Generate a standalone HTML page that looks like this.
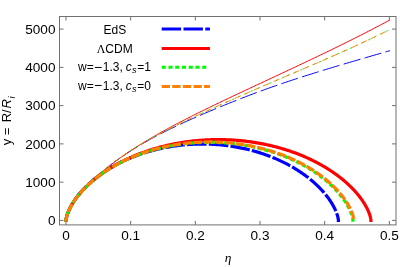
<!DOCTYPE html>
<html><head><meta charset="utf-8"><style>
html,body{margin:0;padding:0;background:#fff;}
svg{display:block;will-change:transform}
text{font-family:"Liberation Sans",sans-serif;fill:#000}
.tk text{font-size:13.6px}
.lg text{font-size:12px}
.it{font-style:italic}
.se{font-family:"Liberation Serif",serif}
</style></head><body>
<svg width="400" height="267" viewBox="0 0 400 267">
<rect width="400" height="267" fill="#fff"/>
<g fill="none" stroke-linecap="square" stroke-linejoin="round">
<path d="M66.00 220.41 L66.06 219.68 L66.18 218.95 L66.32 218.22 L66.50 217.49 L66.70 216.76 L66.92 216.03 L67.16 215.30 L67.42 214.57 L67.69 213.85 L67.98 213.12 L68.28 212.39 L68.60 211.67 L68.93 210.94 L69.28 210.22 L69.63 209.50 L70.00 208.77 L70.38 208.05 L70.78 207.33 L71.18 206.61 L71.59 205.89 L72.02 205.17 L72.45 204.46 L72.90 203.74 L73.35 203.02 L73.82 202.31 L74.29 201.59 L74.77 200.88 L75.27 200.17 L75.77 199.46 L76.28 198.75 L76.79 198.04 L77.32 197.33 L77.86 196.62 L78.40 195.92 L78.95 195.21 L79.51 194.51 L80.08 193.81 L80.65 193.10 L81.23 192.40 L81.82 191.70 L82.42 191.01 L83.02 190.31 L83.63 189.61 L84.25 188.92 L84.88 188.22 L85.51 187.53 L86.15 186.84 L86.80 186.15 L87.45 185.46 L88.11 184.78 L88.78 184.09 L89.45 183.40 L90.13 182.72 L90.82 182.04 L91.51 181.36 L92.21 180.68 L92.91 180.00 L93.63 179.32 L94.34 178.65 L95.07 177.97 L95.80 177.30 L96.53 176.63 L97.27 175.96 L98.02 175.29 L98.77 174.63 L99.53 173.96 L100.30 173.30 L101.07 172.63 L101.85 171.97 L102.63 171.31 L103.42 170.65 L104.21 170.00 L105.01 169.34 L105.81 168.69 L106.62 168.04 L107.44 167.39 L108.26 166.74 L109.08 166.09 L109.91 165.44 L110.75 164.80 L111.59 164.16 L112.44 163.52 L113.29 162.88 L114.15 162.24 L115.01 161.60 L115.88 160.97 L116.75 160.34 L117.63 159.70 L118.51 159.07 L119.40 158.45 L120.29 157.82 L121.19 157.20 L122.09 156.57 L123.00 155.95 L123.91 155.33 L124.83 154.72 L125.75 154.10 L126.67 153.49 L127.61 152.87 L128.54 152.26 L129.48 151.65 L130.43 151.05 L131.38 150.44 L132.33 149.84 L133.29 149.24 L134.25 148.64 L135.22 148.04 L136.19 147.44 L137.17 146.85 L138.15 146.26 L139.14 145.67 L140.13 145.08 L141.12 144.49 L142.12 143.90 L143.13 143.32 L144.14 142.74 L145.15 142.16 L146.17 141.58 L147.19 141.00 L148.21 140.43 L149.24 139.86 L150.28 139.28 L151.31 138.72 L152.36 138.15 L153.40 137.58 L154.45 137.02 L155.51 136.45 L156.57 135.89 L157.63 135.33 L158.70 134.78 L159.77 134.22 L160.85 133.67 L161.93 133.11 L163.01 132.56 L164.10 132.01 L165.19 131.46 L166.29 130.91 L167.39 130.37 L168.49 129.82 L169.60 129.28 L170.71 128.74 L171.83 128.20 L172.95 127.66 L174.07 127.12 L175.20 126.58 L176.33 126.05 L177.47 125.51 L178.61 124.98 L179.75 124.44 L180.90 123.91 L182.05 123.38 L183.20 122.85 L184.36 122.32 L185.52 121.79 L186.69 121.26 L187.86 120.73 L189.03 120.21 L190.21 119.68 L191.39 119.15 L192.57 118.63 L193.76 118.10 L194.96 117.58 L196.15 117.05 L197.35 116.53 L198.55 116.01 L199.76 115.48 L200.97 114.96 L202.19 114.44 L203.40 113.91 L204.62 113.39 L205.85 112.87 L207.08 112.34 L208.31 111.82 L209.55 111.30 L210.78 110.78 L212.03 110.25 L213.27 109.73 L214.52 109.21 L215.78 108.69 L217.03 108.17 L218.29 107.65 L219.56 107.12 L220.83 106.60 L222.10 106.08 L223.37 105.56 L224.65 105.04 L225.93 104.52 L227.21 104.00 L228.50 103.48 L229.79 102.96 L231.09 102.44 L232.39 101.92 L233.69 101.40 L234.99 100.88 L236.30 100.36 L237.61 99.85 L238.93 99.33 L240.25 98.81 L241.57 98.30 L242.89 97.78 L244.22 97.27 L245.55 96.76 L246.89 96.24 L248.23 95.73 L249.57 95.22 L250.91 94.71 L252.26 94.20 L253.61 93.69 L254.97 93.19 L256.32 92.68 L257.69 92.18 L259.05 91.67 L260.42 91.17 L261.79 90.67 L263.16 90.17 L264.54 89.67 L265.92 89.17 L267.30 88.67 L268.69 88.18 L270.08 87.69 L271.47 87.19 L272.87 86.70 L274.27 86.21 L275.67 85.72 L277.08 85.23 L278.49 84.75 L279.90 84.26 L281.31 83.78 L282.73 83.29 L284.15 82.81 L285.58 82.33 L287.00 81.85 L288.43 81.37 L289.87 80.89 L291.30 80.42 L292.74 79.94 L294.19 79.47 L295.63 78.99 L297.08 78.52 L298.53 78.05 L299.99 77.58 L301.44 77.11 L302.91 76.64 L304.37 76.17 L305.84 75.71 L307.31 75.24 L308.78 74.77 L310.26 74.31 L311.73 73.84 L313.22 73.38 L314.70 72.92 L316.19 72.45 L317.68 71.99 L319.17 71.53 L320.67 71.07 L322.17 70.61 L323.67 70.15 L325.18 69.69 L326.68 69.23 L328.20 68.77 L329.71 68.31 L331.23 67.85 L332.75 67.39 L334.27 66.93 L335.80 66.48 L337.32 66.02 L338.86 65.56 L340.39 65.10 L341.93 64.64 L343.47 64.19 L345.01 63.73 L346.56 63.27 L348.10 62.81 L349.66 62.36 L351.21 61.90 L352.77 61.44 L354.33 60.98 L355.89 60.52 L357.46 60.07 L359.02 59.61 L360.60 59.15 L362.17 58.69 L363.75 58.23 L365.33 57.77 L366.91 57.31 L368.49 56.85 L370.08 56.39 L371.67 55.93 L373.26 55.47 L374.86 55.01 L376.46 54.54 L378.06 54.08 L379.67 53.62 L381.27 53.16 L382.88 52.69 L384.50 52.23 L386.11 51.76 L387.73 51.30 L389.35 50.83" stroke="#0000ff" stroke-width="1" stroke-dasharray="16.4 5.4" stroke-dashoffset="20.6"/>
<path d="M66.00 220.41 L66.06 219.69 L66.18 218.97 L66.32 218.24 L66.50 217.52 L66.70 216.80 L66.92 216.08 L67.16 215.36 L67.42 214.63 L67.69 213.91 L67.98 213.19 L68.28 212.48 L68.60 211.76 L68.93 211.04 L69.28 210.32 L69.63 209.60 L70.00 208.89 L70.38 208.17 L70.78 207.46 L71.18 206.74 L71.59 206.03 L72.02 205.32 L72.45 204.61 L72.90 203.90 L73.35 203.19 L73.82 202.48 L74.29 201.77 L74.77 201.06 L75.27 200.35 L75.77 199.65 L76.28 198.94 L76.79 198.24 L77.32 197.54 L77.86 196.83 L78.40 196.13 L78.95 195.43 L79.51 194.73 L80.08 194.04 L80.65 193.34 L81.23 192.64 L81.82 191.95 L82.42 191.25 L83.02 190.56 L83.63 189.87 L84.25 189.18 L84.88 188.49 L85.51 187.80 L86.15 187.11 L86.80 186.42 L87.45 185.73 L88.11 185.05 L88.78 184.37 L89.45 183.68 L90.13 183.00 L90.82 182.32 L91.51 181.64 L92.21 180.96 L92.91 180.28 L93.63 179.61 L94.34 178.93 L95.07 178.26 L95.80 177.58 L96.53 176.91 L97.27 176.24 L98.02 175.57 L98.77 174.90 L99.53 174.24 L100.30 173.57 L101.07 172.90 L101.85 172.24 L102.63 171.58 L103.42 170.91 L104.21 170.25 L105.01 169.59 L105.81 168.94 L106.62 168.28 L107.44 167.62 L108.26 166.97 L109.08 166.31 L109.91 165.66 L110.75 165.01 L111.59 164.36 L112.44 163.71 L113.29 163.06 L114.15 162.41 L115.01 161.76 L115.88 161.12 L116.75 160.47 L117.63 159.83 L118.51 159.19 L119.40 158.55 L120.29 157.91 L121.19 157.27 L122.09 156.63 L123.00 155.99 L123.91 155.36 L124.83 154.72 L125.75 154.09 L126.67 153.46 L127.61 152.82 L128.54 152.19 L129.48 151.56 L130.43 150.93 L131.38 150.31 L132.33 149.68 L133.29 149.05 L134.25 148.43 L135.22 147.81 L136.19 147.18 L137.17 146.56 L138.15 145.94 L139.14 145.32 L140.13 144.70 L141.12 144.08 L142.12 143.47 L143.13 142.85 L144.14 142.23 L145.15 141.62 L146.17 141.00 L147.19 140.39 L148.21 139.78 L149.24 139.17 L150.28 138.56 L151.31 137.95 L152.36 137.34 L153.40 136.73 L154.45 136.12 L155.51 135.51 L156.57 134.91 L157.63 134.30 L158.70 133.70 L159.77 133.09 L160.85 132.49 L161.93 131.89 L163.01 131.28 L164.10 130.68 L165.19 130.08 L166.29 129.48 L167.39 128.88 L168.49 128.28 L169.60 127.68 L170.71 127.08 L171.83 126.48 L172.95 125.88 L174.07 125.28 L175.20 124.69 L176.33 124.09 L177.47 123.49 L178.61 122.89 L179.75 122.30 L180.90 121.70 L182.05 121.11 L183.20 120.51 L184.36 119.91 L185.52 119.32 L186.69 118.72 L187.86 118.13 L189.03 117.53 L190.21 116.93 L191.39 116.34 L192.57 115.74 L193.76 115.15 L194.96 114.55 L196.15 113.95 L197.35 113.36 L198.55 112.76 L199.76 112.16 L200.97 111.57 L202.19 110.97 L203.40 110.37 L204.62 109.77 L205.85 109.17 L207.08 108.57 L208.31 107.97 L209.55 107.37 L210.78 106.77 L212.03 106.17 L213.27 105.57 L214.52 104.97 L215.78 104.36 L217.03 103.76 L218.29 103.16 L219.56 102.55 L220.83 101.94 L222.10 101.34 L223.37 100.73 L224.65 100.12 L225.93 99.51 L227.21 98.90 L228.50 98.29 L229.79 97.68 L231.09 97.07 L232.39 96.45 L233.69 95.84 L234.99 95.22 L236.30 94.61 L237.61 93.99 L238.93 93.37 L240.25 92.75 L241.57 92.13 L242.89 91.51 L244.22 90.88 L245.55 90.26 L246.89 89.63 L248.23 89.00 L249.57 88.38 L250.91 87.75 L252.26 87.11 L253.61 86.48 L254.97 85.85 L256.32 85.21 L257.69 84.58 L259.05 83.94 L260.42 83.30 L261.79 82.66 L263.16 82.02 L264.54 81.37 L265.92 80.73 L267.30 80.08 L268.69 79.43 L270.08 78.79 L271.47 78.13 L272.87 77.48 L274.27 76.83 L275.67 76.17 L277.08 75.51 L278.49 74.86 L279.90 74.19 L281.31 73.53 L282.73 72.87 L284.15 72.20 L285.58 71.53 L287.00 70.87 L288.43 70.19 L289.87 69.52 L291.30 68.85 L292.74 68.17 L294.19 67.49 L295.63 66.81 L297.08 66.13 L298.53 65.44 L299.99 64.76 L301.44 64.07 L302.91 63.38 L304.37 62.69 L305.84 61.99 L307.31 61.29 L308.78 60.59 L310.26 59.89 L311.73 59.19 L313.22 58.48 L314.70 57.78 L316.19 57.07 L317.68 56.35 L319.17 55.64 L320.67 54.92 L322.17 54.20 L323.67 53.48 L325.18 52.75 L326.68 52.02 L328.20 51.29 L329.71 50.56 L331.23 49.82 L332.75 49.08 L334.27 48.34 L335.80 47.60 L337.32 46.85 L338.86 46.10 L340.39 45.35 L341.93 44.59 L343.47 43.83 L345.01 43.07 L346.56 42.30 L348.10 41.53 L349.66 40.76 L351.21 39.98 L352.77 39.21 L354.33 38.42 L355.89 37.64 L357.46 36.85 L359.02 36.05 L360.60 35.26 L362.17 34.46 L363.75 33.65 L365.33 32.85 L366.91 32.04 L368.49 31.22 L370.08 30.40 L371.67 29.58 L373.26 28.75 L374.86 27.92 L376.46 27.09 L378.06 26.25 L379.67 25.41 L381.27 24.56 L382.88 23.71 L384.50 22.85 L386.11 21.99 L387.73 21.13 L389.35 20.26" stroke="#ff0000" stroke-width="1"/>
<path d="M66.00 220.40 L66.06 219.66 L66.18 218.93 L66.32 218.19 L66.50 217.45 L66.70 216.72 L66.92 215.98 L67.16 215.25 L67.42 214.51 L67.69 213.78 L67.98 213.04 L68.28 212.31 L68.60 211.58 L68.93 210.85 L69.28 210.12 L69.63 209.39 L70.00 208.66 L70.38 207.93 L70.78 207.20 L71.18 206.48 L71.59 205.75 L72.02 205.03 L72.45 204.30 L72.90 203.58 L73.35 202.86 L73.82 202.14 L74.29 201.42 L74.77 200.70 L75.27 199.99 L75.77 199.27 L76.28 198.56 L76.79 197.85 L77.32 197.13 L77.86 196.42 L78.40 195.71 L78.95 195.00 L79.51 194.30 L80.08 193.59 L80.65 192.89 L81.23 192.18 L81.82 191.48 L82.42 190.78 L83.02 190.08 L83.63 189.38 L84.25 188.68 L84.88 187.99 L85.51 187.30 L86.15 186.60 L86.80 185.91 L87.45 185.22 L88.11 184.53 L88.78 183.84 L89.45 183.16 L90.13 182.47 L90.82 181.79 L91.51 181.11 L92.21 180.43 L92.91 179.75 L93.63 179.07 L94.34 178.40 L95.07 177.72 L95.80 177.05 L96.53 176.38 L97.27 175.71 L98.02 175.04 L98.77 174.37 L99.53 173.71 L100.30 173.04 L101.07 172.38 L101.85 171.72 L102.63 171.06 L103.42 170.40 L104.21 169.74 L105.01 169.09 L105.81 168.44 L106.62 167.78 L107.44 167.13 L108.26 166.48 L109.08 165.84 L109.91 165.19 L110.75 164.55 L111.59 163.90 L112.44 163.26 L113.29 162.62 L114.15 161.99 L115.01 161.35 L115.88 160.72 L116.75 160.08 L117.63 159.45 L118.51 158.82 L119.40 158.19 L120.29 157.56 L121.19 156.94 L122.09 156.32 L123.00 155.69 L123.91 155.07 L124.83 154.45 L125.75 153.84 L126.67 153.22 L127.61 152.61 L128.54 151.99 L129.48 151.38 L130.43 150.77 L131.38 150.16 L132.33 149.56 L133.29 148.95 L134.25 148.35 L135.22 147.75 L136.19 147.15 L137.17 146.55 L138.15 145.95 L139.14 145.36 L140.13 144.76 L141.12 144.17 L142.12 143.58 L143.13 142.99 L144.14 142.40 L145.15 141.82 L146.17 141.23 L147.19 140.65 L148.21 140.07 L149.24 139.48 L150.28 138.90 L151.31 138.33 L152.36 137.75 L153.40 137.17 L154.45 136.60 L155.51 136.03 L156.57 135.46 L157.63 134.89 L158.70 134.32 L159.77 133.75 L160.85 133.18 L161.93 132.62 L163.01 132.05 L164.10 131.49 L165.19 130.93 L166.29 130.36 L167.39 129.80 L168.49 129.24 L169.60 128.68 L170.71 128.13 L171.83 127.57 L172.95 127.01 L174.07 126.46 L175.20 125.90 L176.33 125.34 L177.47 124.79 L178.61 124.23 L179.75 123.68 L180.90 123.13 L182.05 122.57 L183.20 122.02 L184.36 121.47 L185.52 120.91 L186.69 120.36 L187.86 119.81 L189.03 119.25 L190.21 118.70 L191.39 118.15 L192.57 117.59 L193.76 117.04 L194.96 116.49 L196.15 115.93 L197.35 115.38 L198.55 114.82 L199.76 114.26 L200.97 113.71 L202.19 113.15 L203.40 112.59 L204.62 112.03 L205.85 111.47 L207.08 110.91 L208.31 110.35 L209.55 109.79 L210.78 109.23 L212.03 108.66 L213.27 108.10 L214.52 107.53 L215.78 106.97 L217.03 106.40 L218.29 105.83 L219.56 105.26 L220.83 104.69 L222.10 104.12 L223.37 103.55 L224.65 102.98 L225.93 102.40 L227.21 101.83 L228.50 101.25 L229.79 100.68 L231.09 100.10 L232.39 99.52 L233.69 98.94 L234.99 98.36 L236.30 97.78 L237.61 97.20 L238.93 96.62 L240.25 96.04 L241.57 95.45 L242.89 94.87 L244.22 94.28 L245.55 93.70 L246.89 93.11 L248.23 92.53 L249.57 91.94 L250.91 91.35 L252.26 90.76 L253.61 90.17 L254.97 89.58 L256.32 88.99 L257.69 88.40 L259.05 87.81 L260.42 87.21 L261.79 86.62 L263.16 86.03 L264.54 85.43 L265.92 84.84 L267.30 84.24 L268.69 83.64 L270.08 83.05 L271.47 82.45 L272.87 81.85 L274.27 81.25 L275.67 80.65 L277.08 80.05 L278.49 79.45 L279.90 78.84 L281.31 78.24 L282.73 77.63 L284.15 77.03 L285.58 76.42 L287.00 75.81 L288.43 75.20 L289.87 74.59 L291.30 73.98 L292.74 73.37 L294.19 72.75 L295.63 72.14 L297.08 71.52 L298.53 70.90 L299.99 70.28 L301.44 69.66 L302.91 69.03 L304.37 68.41 L305.84 67.78 L307.31 67.15 L308.78 66.52 L310.26 65.89 L311.73 65.25 L313.22 64.62 L314.70 63.98 L316.19 63.34 L317.68 62.69 L319.17 62.05 L320.67 61.40 L322.17 60.75 L323.67 60.10 L325.18 59.44 L326.68 58.78 L328.20 58.12 L329.71 57.46 L331.23 56.79 L332.75 56.12 L334.27 55.45 L335.80 54.78 L337.32 54.10 L338.86 53.42 L340.39 52.74 L341.93 52.05 L343.47 51.36 L345.01 50.67 L346.56 49.97 L348.10 49.27 L349.66 48.57 L351.21 47.87 L352.77 47.16 L354.33 46.45 L355.89 45.73 L357.46 45.01 L359.02 44.29 L360.60 43.56 L362.17 42.83 L363.75 42.10 L365.33 41.36 L366.91 40.62 L368.49 39.87 L370.08 39.12 L371.67 38.37 L373.26 37.61 L374.86 36.85 L376.46 36.09 L378.06 35.32 L379.67 34.55 L381.27 33.77 L382.88 32.99 L384.50 32.20 L386.11 31.41 L387.73 30.61 L389.35 29.81" stroke="#00fa00" stroke-width="1" stroke-dasharray="1.1 5.65" stroke-dashoffset="4.45"/>
<path d="M66.00 220.40 L66.06 219.66 L66.18 218.93 L66.32 218.19 L66.50 217.45 L66.70 216.72 L66.92 215.98 L67.16 215.25 L67.42 214.51 L67.69 213.78 L67.98 213.04 L68.28 212.31 L68.60 211.58 L68.93 210.85 L69.28 210.12 L69.63 209.39 L70.00 208.66 L70.38 207.93 L70.78 207.20 L71.18 206.48 L71.59 205.75 L72.02 205.03 L72.45 204.30 L72.90 203.58 L73.35 202.86 L73.82 202.14 L74.29 201.42 L74.77 200.70 L75.27 199.99 L75.77 199.27 L76.28 198.56 L76.79 197.85 L77.32 197.13 L77.86 196.42 L78.40 195.71 L78.95 195.00 L79.51 194.30 L80.08 193.59 L80.65 192.89 L81.23 192.18 L81.82 191.48 L82.42 190.78 L83.02 190.08 L83.63 189.38 L84.25 188.68 L84.88 187.99 L85.51 187.30 L86.15 186.60 L86.80 185.91 L87.45 185.22 L88.11 184.53 L88.78 183.84 L89.45 183.16 L90.13 182.47 L90.82 181.79 L91.51 181.11 L92.21 180.43 L92.91 179.75 L93.63 179.07 L94.34 178.40 L95.07 177.72 L95.80 177.05 L96.53 176.38 L97.27 175.71 L98.02 175.04 L98.77 174.37 L99.53 173.71 L100.30 173.04 L101.07 172.38 L101.85 171.72 L102.63 171.06 L103.42 170.40 L104.21 169.74 L105.01 169.09 L105.81 168.44 L106.62 167.78 L107.44 167.13 L108.26 166.48 L109.08 165.84 L109.91 165.19 L110.75 164.55 L111.59 163.90 L112.44 163.26 L113.29 162.62 L114.15 161.99 L115.01 161.35 L115.88 160.72 L116.75 160.08 L117.63 159.45 L118.51 158.82 L119.40 158.19 L120.29 157.56 L121.19 156.94 L122.09 156.32 L123.00 155.69 L123.91 155.07 L124.83 154.45 L125.75 153.84 L126.67 153.22 L127.61 152.61 L128.54 151.99 L129.48 151.38 L130.43 150.77 L131.38 150.16 L132.33 149.56 L133.29 148.95 L134.25 148.35 L135.22 147.75 L136.19 147.15 L137.17 146.55 L138.15 145.95 L139.14 145.36 L140.13 144.76 L141.12 144.17 L142.12 143.58 L143.13 142.99 L144.14 142.40 L145.15 141.82 L146.17 141.23 L147.19 140.65 L148.21 140.07 L149.24 139.48 L150.28 138.90 L151.31 138.33 L152.36 137.75 L153.40 137.17 L154.45 136.60 L155.51 136.03 L156.57 135.46 L157.63 134.89 L158.70 134.32 L159.77 133.75 L160.85 133.18 L161.93 132.62 L163.01 132.05 L164.10 131.49 L165.19 130.93 L166.29 130.36 L167.39 129.80 L168.49 129.24 L169.60 128.68 L170.71 128.13 L171.83 127.57 L172.95 127.01 L174.07 126.46 L175.20 125.90 L176.33 125.34 L177.47 124.79 L178.61 124.23 L179.75 123.68 L180.90 123.13 L182.05 122.57 L183.20 122.02 L184.36 121.47 L185.52 120.91 L186.69 120.36 L187.86 119.81 L189.03 119.25 L190.21 118.70 L191.39 118.15 L192.57 117.59 L193.76 117.04 L194.96 116.49 L196.15 115.93 L197.35 115.38 L198.55 114.82 L199.76 114.26 L200.97 113.71 L202.19 113.15 L203.40 112.59 L204.62 112.03 L205.85 111.47 L207.08 110.91 L208.31 110.35 L209.55 109.79 L210.78 109.23 L212.03 108.66 L213.27 108.10 L214.52 107.53 L215.78 106.97 L217.03 106.40 L218.29 105.83 L219.56 105.26 L220.83 104.69 L222.10 104.12 L223.37 103.55 L224.65 102.98 L225.93 102.40 L227.21 101.83 L228.50 101.25 L229.79 100.68 L231.09 100.10 L232.39 99.52 L233.69 98.94 L234.99 98.36 L236.30 97.78 L237.61 97.20 L238.93 96.62 L240.25 96.04 L241.57 95.45 L242.89 94.87 L244.22 94.28 L245.55 93.70 L246.89 93.11 L248.23 92.53 L249.57 91.94 L250.91 91.35 L252.26 90.76 L253.61 90.17 L254.97 89.58 L256.32 88.99 L257.69 88.40 L259.05 87.81 L260.42 87.21 L261.79 86.62 L263.16 86.03 L264.54 85.43 L265.92 84.84 L267.30 84.24 L268.69 83.64 L270.08 83.05 L271.47 82.45 L272.87 81.85 L274.27 81.25 L275.67 80.65 L277.08 80.05 L278.49 79.45 L279.90 78.84 L281.31 78.24 L282.73 77.63 L284.15 77.03 L285.58 76.42 L287.00 75.81 L288.43 75.20 L289.87 74.59 L291.30 73.98 L292.74 73.37 L294.19 72.75 L295.63 72.14 L297.08 71.52 L298.53 70.90 L299.99 70.28 L301.44 69.66 L302.91 69.03 L304.37 68.41 L305.84 67.78 L307.31 67.15 L308.78 66.52 L310.26 65.89 L311.73 65.25 L313.22 64.62 L314.70 63.98 L316.19 63.34 L317.68 62.69 L319.17 62.05 L320.67 61.40 L322.17 60.75 L323.67 60.10 L325.18 59.44 L326.68 58.78 L328.20 58.12 L329.71 57.46 L331.23 56.79 L332.75 56.12 L334.27 55.45 L335.80 54.78 L337.32 54.10 L338.86 53.42 L340.39 52.74 L341.93 52.05 L343.47 51.36 L345.01 50.67 L346.56 49.97 L348.10 49.27 L349.66 48.57 L351.21 47.87 L352.77 47.16 L354.33 46.45 L355.89 45.73 L357.46 45.01 L359.02 44.29 L360.60 43.56 L362.17 42.83 L363.75 42.10 L365.33 41.36 L366.91 40.62 L368.49 39.87 L370.08 39.12 L371.67 38.37 L373.26 37.61 L374.86 36.85 L376.46 36.09 L378.06 35.32 L379.67 34.55 L381.27 33.77 L382.88 32.99 L384.50 32.20 L386.11 31.41 L387.73 30.61 L389.35 29.81" stroke="#ff8000" stroke-width="1" stroke-dasharray="5.3 5.3" stroke-dashoffset="8.3"/>
<path d="M66.00 220.40 L66.00 220.40 L66.00 220.38 L66.00 220.36 L66.00 220.32 L66.00 220.28 L66.01 220.23 L66.01 220.17 L66.01 220.10 L66.02 220.02 L66.03 219.93 L66.04 219.83 L66.05 219.72 L66.06 219.60 L66.08 219.48 L66.09 219.34 L66.12 219.19 L66.14 219.04 L66.16 218.88 L66.19 218.70 L66.22 218.52 L66.26 218.33 L66.30 218.13 L66.34 217.92 L66.39 217.71 L66.44 217.48 L66.49 217.24 L66.55 217.00 L66.61 216.75 L66.68 216.49 L66.75 216.22 L66.83 215.94 L66.91 215.65 L67.00 215.36 L67.09 215.06 L67.19 214.75 L67.30 214.43 L67.41 214.10 L67.52 213.77 L67.64 213.42 L67.77 213.07 L67.90 212.71 L68.05 212.35 L68.19 211.98 L68.35 211.60 L68.51 211.21 L68.68 210.81 L68.85 210.41 L69.03 210.00 L69.22 209.59 L69.42 209.16 L69.62 208.73 L69.84 208.30 L70.06 207.86 L70.28 207.41 L70.52 206.95 L70.77 206.49 L71.02 206.02 L71.28 205.55 L71.55 205.07 L71.83 204.59 L72.12 204.10 L72.41 203.60 L72.72 203.10 L73.03 202.59 L73.35 202.08 L73.68 201.57 L74.03 201.05 L74.38 200.52 L74.74 199.99 L75.11 199.46 L75.49 198.92 L75.87 198.38 L76.27 197.83 L76.68 197.28 L77.10 196.72 L77.53 196.17 L77.97 195.61 L78.42 195.04 L78.87 194.47 L79.34 193.90 L79.82 193.33 L80.31 192.75 L80.81 192.17 L81.32 191.59 L81.84 191.01 L82.37 190.42 L82.91 189.83 L83.46 189.24 L84.03 188.65 L84.60 188.06 L85.18 187.46 L85.78 186.86 L86.38 186.27 L87.00 185.67 L87.62 185.07 L88.26 184.47 L88.91 183.87 L89.57 183.27 L90.24 182.67 L90.92 182.07 L91.61 181.46 L92.31 180.86 L93.02 180.26 L93.74 179.66 L94.48 179.06 L95.22 178.46 L95.98 177.87 L96.74 177.27 L97.52 176.67 L98.31 176.08 L99.10 175.49 L99.91 174.90 L100.73 174.31 L101.56 173.72 L102.40 173.13 L103.25 172.55 L104.11 171.97 L104.98 171.39 L105.86 170.82 L106.76 170.25 L107.66 169.68 L108.57 169.11 L109.49 168.55 L110.42 167.99 L111.37 167.43 L112.32 166.88 L113.28 166.33 L114.25 165.78 L115.23 165.24 L116.22 164.71 L117.22 164.18 L118.23 163.65 L119.25 163.12 L120.28 162.61 L121.32 162.09 L122.37 161.58 L123.42 161.08 L124.49 160.58 L125.56 160.09 L126.64 159.60 L127.74 159.12 L128.83 158.65 L129.94 158.18 L131.06 157.71 L132.18 157.25 L133.32 156.80 L134.46 156.36 L135.61 155.92 L136.76 155.48 L137.93 155.06 L139.10 154.64 L140.28 154.23 L141.47 153.82 L142.66 153.42 L143.86 153.03 L145.07 152.65 L146.29 152.27 L147.51 151.90 L148.73 151.54 L149.97 151.18 L151.21 150.84 L152.46 150.50 L153.71 150.17 L154.97 149.85 L156.23 149.53 L157.50 149.22 L158.78 148.93 L160.06 148.64 L161.34 148.35 L162.63 148.08 L163.93 147.81 L165.23 147.56 L166.53 147.31 L167.84 147.07 L169.16 146.84 L170.47 146.62 L171.79 146.40 L173.12 146.20 L174.45 146.01 L175.78 145.82 L177.11 145.64 L178.45 145.47 L179.79 145.31 L181.14 145.16 L182.48 145.02 L183.83 144.89 L185.18 144.77 L186.54 144.66 L187.89 144.55 L189.25 144.46 L190.61 144.37 L191.97 144.30 L193.33 144.23 L194.69 144.18 L196.05 144.13 L197.42 144.09 L198.78 144.06 L200.15 144.04 L201.51 144.03 L202.88 144.03 L204.24 144.04 L205.61 144.06 L206.97 144.09 L208.34 144.13 L209.70 144.18 L211.06 144.23 L212.42 144.30 L213.78 144.37 L215.14 144.46 L216.50 144.55 L217.85 144.66 L219.21 144.77 L220.56 144.89 L221.91 145.02 L223.25 145.16 L224.60 145.31 L225.94 145.47 L227.28 145.64 L228.61 145.82 L229.94 146.01 L231.27 146.20 L232.60 146.40 L233.92 146.62 L235.23 146.84 L236.55 147.07 L237.86 147.31 L239.16 147.56 L240.46 147.81 L241.76 148.08 L243.05 148.35 L244.33 148.64 L245.61 148.93 L246.89 149.22 L248.16 149.53 L249.42 149.85 L250.68 150.17 L251.93 150.50 L253.18 150.84 L254.42 151.18 L255.66 151.54 L256.88 151.90 L258.11 152.27 L259.32 152.65 L260.53 153.03 L261.73 153.42 L262.92 153.82 L264.11 154.23 L265.29 154.64 L266.46 155.06 L267.63 155.48 L268.78 155.92 L269.93 156.36 L271.07 156.80 L272.21 157.25 L273.33 157.71 L274.45 158.18 L275.56 158.65 L276.65 159.12 L277.75 159.60 L278.83 160.09 L279.90 160.58 L280.97 161.08 L282.02 161.58 L283.07 162.09 L284.11 162.61 L285.14 163.12 L286.16 163.65 L287.17 164.18 L288.17 164.71 L289.16 165.24 L290.14 165.78 L291.11 166.33 L292.07 166.88 L293.02 167.43 L293.97 167.99 L294.90 168.55 L295.82 169.11 L296.73 169.68 L297.63 170.25 L298.53 170.82 L299.41 171.39 L300.28 171.97 L301.14 172.55 L301.99 173.13 L302.83 173.72 L303.66 174.31 L304.48 174.90 L305.29 175.49 L306.08 176.08 L306.87 176.67 L307.65 177.27 L308.41 177.87 L309.17 178.46 L309.91 179.06 L310.65 179.66 L311.37 180.26 L312.08 180.86 L312.78 181.46 L313.47 182.07 L314.15 182.67 L314.82 183.27 L315.48 183.87 L316.13 184.47 L316.77 185.07 L317.39 185.67 L318.01 186.27 L318.61 186.86 L319.21 187.46 L319.79 188.06 L320.36 188.65 L320.93 189.24 L321.48 189.83 L322.02 190.42 L322.55 191.01 L323.07 191.59 L323.58 192.17 L324.08 192.75 L324.57 193.33 L325.05 193.90 L325.52 194.47 L325.98 195.04 L326.42 195.61 L326.86 196.17 L327.29 196.72 L327.71 197.28 L328.12 197.83 L328.52 198.38 L328.90 198.92 L329.28 199.46 L329.65 199.99 L330.01 200.52 L330.36 201.05 L330.71 201.57 L331.04 202.08 L331.36 202.59 L331.67 203.10 L331.98 203.60 L332.27 204.10 L332.56 204.59 L332.84 205.07 L333.11 205.55 L333.37 206.02 L333.62 206.49 L333.87 206.95 L334.11 207.41 L334.33 207.86 L334.55 208.30 L334.77 208.73 L334.97 209.16 L335.17 209.59 L335.36 210.00 L335.54 210.41 L335.71 210.81 L335.88 211.21 L336.04 211.60 L336.20 211.98 L336.34 212.35 L336.49 212.71 L336.62 213.07 L336.75 213.42 L336.87 213.77 L336.98 214.10 L337.09 214.43 L337.20 214.75 L337.30 215.06 L337.39 215.36 L337.48 215.65 L337.56 215.94 L337.64 216.22 L337.71 216.49 L337.78 216.75 L337.84 217.00 L337.90 217.24 L337.95 217.48 L338.00 217.71 L338.05 217.92 L338.09 218.13 L338.13 218.33 L338.17 218.52 L338.20 218.70 L338.23 218.88 L338.25 219.04 L338.27 219.19 L338.30 219.34 L338.31 219.48 L338.33 219.60 L338.34 219.72 L338.35 219.83 L338.36 219.93 L338.37 220.02 L338.38 220.10 L338.38 220.17 L338.38 220.23 L338.39 220.28 L338.39 220.32 L338.39 220.36 L338.39 220.38 L338.39 220.40 L338.39 220.40" stroke="#0000ff" stroke-width="3.2" stroke-dasharray="16.4 5.4" stroke-dashoffset="21.3"/>
<path d="M66.00 220.40 L66.00 220.39 L66.00 220.38 L66.00 220.35 L66.00 220.32 L66.00 220.27 L66.01 220.22 L66.01 220.15 L66.02 220.08 L66.02 219.99 L66.03 219.90 L66.04 219.80 L66.05 219.68 L66.07 219.56 L66.09 219.42 L66.11 219.28 L66.13 219.12 L66.15 218.96 L66.18 218.79 L66.22 218.61 L66.25 218.41 L66.29 218.21 L66.33 218.00 L66.38 217.78 L66.43 217.55 L66.49 217.31 L66.55 217.06 L66.62 216.80 L66.69 216.54 L66.76 216.26 L66.84 215.97 L66.93 215.68 L67.02 215.38 L67.12 215.07 L67.22 214.75 L67.33 214.42 L67.45 214.08 L67.57 213.73 L67.70 213.38 L67.84 213.02 L67.98 212.65 L68.13 212.27 L68.29 211.88 L68.45 211.49 L68.63 211.08 L68.81 210.67 L68.99 210.26 L69.19 209.83 L69.39 209.40 L69.61 208.96 L69.83 208.51 L70.06 208.06 L70.29 207.59 L70.54 207.13 L70.80 206.65 L71.06 206.17 L71.34 205.68 L71.62 205.19 L71.91 204.69 L72.21 204.18 L72.52 203.67 L72.85 203.15 L73.18 202.63 L73.52 202.10 L73.87 201.56 L74.23 201.02 L74.60 200.47 L74.98 199.92 L75.38 199.37 L75.78 198.81 L76.19 198.24 L76.62 197.67 L77.05 197.10 L77.50 196.52 L77.96 195.94 L78.43 195.35 L78.91 194.76 L79.40 194.16 L79.90 193.57 L80.41 192.97 L80.94 192.36 L81.47 191.75 L82.02 191.14 L82.58 190.53 L83.15 189.92 L83.73 189.30 L84.33 188.68 L84.93 188.06 L85.55 187.43 L86.18 186.80 L86.82 186.18 L87.47 185.55 L88.14 184.92 L88.82 184.28 L89.50 183.65 L90.21 183.02 L90.92 182.38 L91.64 181.75 L92.38 181.11 L93.13 180.47 L93.89 179.84 L94.67 179.20 L95.45 178.57 L96.25 177.93 L97.06 177.30 L97.88 176.66 L98.71 176.03 L99.56 175.39 L100.41 174.76 L101.28 174.13 L102.16 173.50 L103.06 172.88 L103.96 172.25 L104.88 171.63 L105.81 171.01 L106.75 170.39 L107.70 169.77 L108.66 169.16 L109.64 168.55 L110.62 167.94 L111.62 167.33 L112.63 166.73 L113.65 166.13 L114.68 165.53 L115.73 164.94 L116.78 164.35 L117.85 163.77 L118.93 163.19 L120.01 162.61 L121.11 162.04 L122.22 161.47 L123.34 160.91 L124.47 160.35 L125.61 159.80 L126.76 159.25 L127.93 158.70 L129.10 158.17 L130.28 157.63 L131.47 157.11 L132.67 156.59 L133.89 156.07 L135.11 155.56 L136.34 155.06 L137.58 154.56 L138.83 154.07 L140.09 153.58 L141.36 153.10 L142.63 152.63 L143.92 152.17 L145.22 151.71 L146.52 151.26 L147.83 150.82 L149.15 150.38 L150.48 149.95 L151.82 149.53 L153.16 149.12 L154.51 148.71 L155.87 148.31 L157.24 147.92 L158.61 147.54 L160.00 147.16 L161.39 146.80 L162.78 146.44 L164.18 146.09 L165.59 145.75 L167.01 145.41 L168.43 145.09 L169.86 144.77 L171.29 144.46 L172.73 144.17 L174.17 143.88 L175.62 143.60 L177.08 143.32 L178.54 143.06 L180.00 142.81 L181.47 142.56 L182.95 142.33 L184.43 142.10 L185.91 141.89 L187.40 141.68 L188.89 141.48 L190.38 141.30 L191.88 141.12 L193.38 140.95 L194.89 140.79 L196.39 140.64 L197.90 140.50 L199.42 140.38 L200.93 140.26 L202.45 140.15 L203.97 140.05 L205.49 139.96 L207.01 139.88 L208.53 139.81 L210.06 139.75 L211.58 139.70 L213.11 139.66 L214.64 139.63 L216.17 139.61 L217.70 139.60 L219.22 139.60 L220.75 139.61 L222.28 139.63 L223.81 139.66 L225.33 139.70 L226.86 139.75 L228.39 139.81 L229.91 139.88 L231.43 139.96 L232.95 140.05 L234.47 140.15 L235.99 140.26 L237.50 140.38 L239.02 140.50 L240.53 140.64 L242.03 140.79 L243.54 140.95 L245.04 141.12 L246.54 141.30 L248.03 141.48 L249.52 141.68 L251.01 141.89 L252.49 142.10 L253.97 142.33 L255.44 142.56 L256.91 142.81 L258.38 143.06 L259.84 143.32 L261.30 143.60 L262.75 143.88 L264.19 144.17 L265.63 144.46 L267.06 144.77 L268.49 145.09 L269.91 145.41 L271.33 145.75 L272.74 146.09 L274.14 146.44 L275.53 146.80 L276.92 147.16 L278.30 147.54 L279.68 147.92 L281.05 148.31 L282.41 148.71 L283.76 149.12 L285.10 149.53 L286.44 149.95 L287.77 150.38 L289.09 150.82 L290.40 151.26 L291.70 151.71 L293.00 152.17 L294.28 152.63 L295.56 153.10 L296.83 153.58 L298.09 154.07 L299.34 154.56 L300.58 155.06 L301.81 155.56 L303.03 156.07 L304.25 156.59 L305.45 157.11 L306.64 157.63 L307.82 158.17 L308.99 158.70 L310.16 159.25 L311.31 159.80 L312.45 160.35 L313.58 160.91 L314.70 161.47 L315.81 162.04 L316.91 162.61 L317.99 163.19 L319.07 163.77 L320.14 164.35 L321.19 164.94 L322.23 165.53 L323.27 166.13 L324.29 166.73 L325.30 167.33 L326.29 167.94 L327.28 168.55 L328.26 169.16 L329.22 169.77 L330.17 170.39 L331.11 171.01 L332.04 171.63 L332.96 172.25 L333.86 172.88 L334.75 173.50 L335.64 174.13 L336.50 174.76 L337.36 175.39 L338.21 176.03 L339.04 176.66 L339.86 177.30 L340.67 177.93 L341.47 178.57 L342.25 179.20 L343.03 179.84 L343.79 180.47 L344.54 181.11 L345.27 181.75 L346.00 182.38 L346.71 183.02 L347.41 183.65 L348.10 184.28 L348.78 184.92 L349.45 185.55 L350.10 186.18 L350.74 186.80 L351.37 187.43 L351.99 188.06 L352.59 188.68 L353.19 189.30 L353.77 189.92 L354.34 190.53 L354.90 191.14 L355.45 191.75 L355.98 192.36 L356.51 192.97 L357.02 193.57 L357.52 194.16 L358.01 194.76 L358.49 195.35 L358.96 195.94 L359.42 196.52 L359.87 197.10 L360.30 197.67 L360.73 198.24 L361.14 198.81 L361.54 199.37 L361.93 199.92 L362.32 200.47 L362.69 201.02 L363.05 201.56 L363.40 202.10 L363.74 202.63 L364.07 203.15 L364.39 203.67 L364.71 204.18 L365.01 204.69 L365.30 205.19 L365.58 205.68 L365.86 206.17 L366.12 206.65 L366.38 207.13 L366.62 207.59 L366.86 208.06 L367.09 208.51 L367.31 208.96 L367.52 209.40 L367.73 209.83 L367.92 210.26 L368.11 210.67 L368.29 211.08 L368.46 211.49 L368.63 211.88 L368.79 212.27 L368.94 212.65 L369.08 213.02 L369.22 213.38 L369.35 213.73 L369.47 214.08 L369.59 214.42 L369.70 214.75 L369.80 215.07 L369.90 215.38 L369.99 215.68 L370.08 215.97 L370.16 216.26 L370.23 216.54 L370.30 216.80 L370.37 217.06 L370.43 217.31 L370.49 217.55 L370.54 217.78 L370.58 218.00 L370.63 218.21 L370.67 218.41 L370.70 218.61 L370.74 218.79 L370.76 218.96 L370.79 219.12 L370.81 219.28 L370.83 219.42 L370.85 219.56 L370.86 219.68 L370.88 219.80 L370.89 219.90 L370.90 219.99 L370.90 220.08 L370.91 220.15 L370.91 220.22 L370.92 220.27 L370.92 220.32 L370.92 220.35 L370.92 220.38 L370.92 220.39 L370.92 220.40" stroke="#ff0000" stroke-width="3.2"/>
<path d="M66.00 220.40 L66.00 220.40 L66.00 220.38 L66.00 220.36 L66.00 220.32 L66.00 220.28 L66.01 220.23 L66.01 220.16 L66.02 220.09 L66.02 220.01 L66.03 219.92 L66.04 219.82 L66.05 219.71 L66.07 219.59 L66.08 219.46 L66.10 219.32 L66.12 219.17 L66.15 219.01 L66.17 218.84 L66.20 218.67 L66.24 218.48 L66.27 218.29 L66.31 218.08 L66.36 217.87 L66.41 217.65 L66.46 217.41 L66.52 217.17 L66.58 216.93 L66.65 216.67 L66.72 216.40 L66.79 216.13 L66.87 215.84 L66.96 215.55 L67.05 215.25 L67.15 214.94 L67.26 214.62 L67.36 214.30 L67.48 213.96 L67.60 213.62 L67.73 213.27 L67.86 212.91 L68.01 212.54 L68.15 212.17 L68.31 211.79 L68.47 211.40 L68.64 211.00 L68.82 210.60 L69.00 210.19 L69.19 209.77 L69.39 209.35 L69.60 208.92 L69.82 208.48 L70.04 208.03 L70.27 207.58 L70.51 207.12 L70.76 206.66 L71.02 206.18 L71.29 205.71 L71.56 205.22 L71.85 204.73 L72.14 204.24 L72.44 203.74 L72.75 203.23 L73.07 202.72 L73.41 202.20 L73.75 201.68 L74.10 201.15 L74.45 200.62 L74.82 200.08 L75.20 199.54 L75.59 199.00 L75.99 198.45 L76.40 197.89 L76.82 197.33 L77.25 196.77 L77.69 196.20 L78.14 195.63 L78.61 195.06 L79.08 194.48 L79.56 193.90 L80.05 193.32 L80.56 192.73 L81.07 192.14 L81.60 191.55 L82.14 190.95 L82.69 190.36 L83.25 189.76 L83.82 189.16 L84.40 188.55 L84.99 187.95 L85.59 187.34 L86.21 186.74 L86.83 186.13 L87.47 185.52 L88.12 184.90 L88.78 184.29 L89.45 183.68 L90.13 183.06 L90.83 182.45 L91.53 181.84 L92.25 181.22 L92.97 180.61 L93.71 179.99 L94.46 179.38 L95.23 178.76 L96.00 178.15 L96.78 177.54 L97.58 176.93 L98.38 176.32 L99.20 175.71 L100.03 175.10 L100.87 174.50 L101.72 173.89 L102.59 173.29 L103.46 172.69 L104.34 172.09 L105.24 171.50 L106.15 170.90 L107.06 170.31 L107.99 169.73 L108.93 169.14 L109.88 168.56 L110.84 167.98 L111.81 167.40 L112.80 166.83 L113.79 166.26 L114.79 165.70 L115.80 165.14 L116.83 164.58 L117.86 164.03 L118.91 163.48 L119.96 162.94 L121.02 162.40 L122.10 161.86 L123.18 161.33 L124.27 160.81 L125.38 160.29 L126.49 159.77 L127.61 159.26 L128.74 158.76 L129.88 158.26 L131.03 157.77 L132.19 157.28 L133.36 156.80 L134.54 156.33 L135.72 155.86 L136.91 155.40 L138.12 154.94 L139.33 154.49 L140.54 154.05 L141.77 153.62 L143.01 153.19 L144.25 152.77 L145.50 152.35 L146.76 151.95 L148.02 151.55 L149.29 151.15 L150.57 150.77 L151.86 150.39 L153.15 150.02 L154.45 149.66 L155.76 149.30 L157.07 148.96 L158.39 148.62 L159.72 148.29 L161.05 147.97 L162.39 147.66 L163.73 147.35 L165.08 147.05 L166.44 146.76 L167.80 146.49 L169.16 146.21 L170.53 145.95 L171.90 145.70 L173.28 145.45 L174.67 145.22 L176.05 144.99 L177.45 144.77 L178.84 144.57 L180.24 144.37 L181.64 144.18 L183.05 143.99 L184.46 143.82 L185.87 143.66 L187.29 143.51 L188.71 143.36 L190.13 143.23 L191.55 143.10 L192.98 142.99 L194.40 142.88 L195.83 142.79 L197.26 142.70 L198.70 142.62 L200.13 142.55 L201.56 142.50 L203.00 142.45 L204.44 142.41 L205.88 142.38 L207.31 142.36 L208.75 142.35 L210.19 142.35 L211.63 142.36 L213.07 142.38 L214.50 142.41 L215.94 142.45 L217.38 142.50 L218.81 142.55 L220.25 142.62 L221.68 142.70 L223.11 142.79 L224.54 142.88 L225.97 142.99 L227.39 143.10 L228.81 143.23 L230.24 143.36 L231.65 143.51 L233.07 143.66 L234.48 143.82 L235.89 143.99 L237.30 144.18 L238.70 144.37 L240.10 144.57 L241.50 144.77 L242.89 144.99 L244.27 145.22 L245.66 145.45 L247.04 145.70 L248.41 145.95 L249.78 146.21 L251.15 146.49 L252.50 146.76 L253.86 147.05 L255.21 147.35 L256.55 147.66 L257.89 147.97 L259.22 148.29 L260.55 148.62 L261.87 148.96 L263.18 149.30 L264.49 149.66 L265.79 150.02 L267.08 150.39 L268.37 150.77 L269.65 151.15 L270.92 151.55 L272.18 151.95 L273.44 152.35 L274.69 152.77 L275.93 153.19 L277.17 153.62 L278.40 154.05 L279.61 154.49 L280.82 154.94 L282.03 155.40 L283.22 155.86 L284.41 156.33 L285.58 156.80 L286.75 157.28 L287.91 157.77 L289.06 158.26 L290.20 158.76 L291.33 159.26 L292.45 159.77 L293.56 160.29 L294.67 160.81 L295.76 161.33 L296.84 161.86 L297.92 162.40 L298.98 162.94 L300.04 163.48 L301.08 164.03 L302.11 164.58 L303.14 165.14 L304.15 165.70 L305.15 166.26 L306.14 166.83 L307.13 167.40 L308.10 167.98 L309.06 168.56 L310.01 169.14 L310.95 169.73 L311.88 170.31 L312.79 170.90 L313.70 171.50 L314.60 172.09 L315.48 172.69 L316.35 173.29 L317.22 173.89 L318.07 174.50 L318.91 175.10 L319.74 175.71 L320.56 176.32 L321.36 176.93 L322.16 177.54 L322.94 178.15 L323.72 178.76 L324.48 179.38 L325.23 179.99 L325.97 180.61 L326.69 181.22 L327.41 181.84 L328.11 182.45 L328.81 183.06 L329.49 183.68 L330.16 184.29 L330.82 184.90 L331.47 185.52 L332.11 186.13 L332.73 186.74 L333.35 187.34 L333.95 187.95 L334.54 188.55 L335.13 189.16 L335.70 189.76 L336.25 190.36 L336.80 190.95 L337.34 191.55 L337.87 192.14 L338.38 192.73 L338.89 193.32 L339.38 193.90 L339.86 194.48 L340.33 195.06 L340.80 195.63 L341.25 196.20 L341.69 196.77 L342.12 197.33 L342.54 197.89 L342.95 198.45 L343.35 199.00 L343.74 199.54 L344.12 200.08 L344.49 200.62 L344.85 201.15 L345.20 201.68 L345.54 202.20 L345.87 202.72 L346.19 203.23 L346.50 203.74 L346.80 204.24 L347.09 204.73 L347.38 205.22 L347.65 205.71 L347.92 206.18 L348.18 206.66 L348.43 207.12 L348.67 207.58 L348.90 208.03 L349.12 208.48 L349.34 208.92 L349.55 209.35 L349.75 209.77 L349.94 210.19 L350.12 210.60 L350.30 211.00 L350.47 211.40 L350.63 211.79 L350.79 212.17 L350.93 212.54 L351.08 212.91 L351.21 213.27 L351.34 213.62 L351.46 213.96 L351.58 214.30 L351.69 214.62 L351.79 214.94 L351.89 215.25 L351.98 215.55 L352.07 215.84 L352.15 216.13 L352.22 216.40 L352.29 216.67 L352.36 216.93 L352.42 217.17 L352.48 217.41 L352.53 217.65 L352.58 217.87 L352.63 218.08 L352.67 218.29 L352.70 218.48 L352.74 218.67 L352.77 218.84 L352.80 219.01 L352.82 219.17 L352.84 219.32 L352.86 219.46 L352.88 219.59 L352.89 219.71 L352.90 219.82 L352.91 219.92 L352.92 220.01 L352.93 220.09 L352.93 220.16 L352.93 220.23 L352.94 220.28 L352.94 220.32 L352.94 220.36 L352.94 220.38 L352.94 220.40 L352.94 220.40" stroke="#00fa00" stroke-width="3.2" stroke-dasharray="1.1 5.7"/>
<path d="M66.00 220.40 L66.00 220.40 L66.00 220.38 L66.00 220.36 L66.00 220.32 L66.00 220.28 L66.01 220.23 L66.01 220.16 L66.02 220.09 L66.02 220.01 L66.03 219.91 L66.04 219.81 L66.05 219.70 L66.07 219.58 L66.08 219.45 L66.10 219.31 L66.12 219.16 L66.15 219.00 L66.17 218.84 L66.20 218.66 L66.24 218.47 L66.27 218.28 L66.32 218.07 L66.36 217.86 L66.41 217.63 L66.46 217.40 L66.52 217.16 L66.58 216.91 L66.65 216.65 L66.72 216.38 L66.80 216.10 L66.88 215.82 L66.97 215.53 L67.06 215.22 L67.16 214.91 L67.26 214.59 L67.37 214.27 L67.49 213.93 L67.61 213.59 L67.74 213.23 L67.87 212.87 L68.01 212.51 L68.16 212.13 L68.32 211.75 L68.48 211.36 L68.65 210.96 L68.83 210.55 L69.01 210.14 L69.21 209.72 L69.41 209.29 L69.61 208.86 L69.83 208.42 L70.06 207.97 L70.29 207.52 L70.53 207.06 L70.78 206.59 L71.04 206.11 L71.31 205.63 L71.58 205.15 L71.87 204.66 L72.16 204.16 L72.47 203.66 L72.78 203.15 L73.10 202.63 L73.43 202.11 L73.77 201.59 L74.12 201.06 L74.49 200.52 L74.86 199.98 L75.24 199.44 L75.63 198.89 L76.03 198.34 L76.44 197.78 L76.86 197.22 L77.29 196.65 L77.74 196.08 L78.19 195.51 L78.65 194.93 L79.13 194.35 L79.61 193.77 L80.11 193.18 L80.61 192.60 L81.13 192.00 L81.66 191.41 L82.20 190.81 L82.75 190.21 L83.31 189.61 L83.88 189.00 L84.46 188.40 L85.06 187.79 L85.66 187.18 L86.28 186.57 L86.91 185.96 L87.55 185.34 L88.20 184.73 L88.86 184.11 L89.53 183.50 L90.22 182.88 L90.92 182.26 L91.62 181.65 L92.34 181.03 L93.07 180.41 L93.81 179.79 L94.57 179.18 L95.33 178.56 L96.11 177.95 L96.89 177.33 L97.69 176.72 L98.50 176.10 L99.32 175.49 L100.15 174.88 L101.00 174.27 L101.85 173.67 L102.72 173.06 L103.60 172.46 L104.48 171.86 L105.38 171.26 L106.29 170.66 L107.21 170.07 L108.14 169.48 L109.09 168.89 L110.04 168.30 L111.00 167.72 L111.98 167.14 L112.96 166.57 L113.96 166.00 L114.97 165.43 L115.98 164.87 L117.01 164.31 L118.05 163.75 L119.10 163.20 L120.15 162.65 L121.22 162.11 L122.30 161.58 L123.39 161.04 L124.48 160.52 L125.59 159.99 L126.71 159.48 L127.83 158.96 L128.97 158.46 L130.11 157.96 L131.27 157.46 L132.43 156.97 L133.60 156.49 L134.78 156.02 L135.97 155.54 L137.17 155.08 L138.38 154.62 L139.59 154.17 L140.81 153.73 L142.04 153.29 L143.28 152.86 L144.53 152.44 L145.79 152.02 L147.05 151.61 L148.32 151.21 L149.59 150.81 L150.88 150.43 L152.17 150.05 L153.47 149.68 L154.77 149.31 L156.08 148.96 L157.40 148.61 L158.73 148.27 L160.06 147.94 L161.39 147.61 L162.74 147.30 L164.09 146.99 L165.44 146.69 L166.80 146.40 L168.16 146.12 L169.53 145.85 L170.91 145.59 L172.29 145.33 L173.67 145.09 L175.06 144.85 L176.45 144.62 L177.85 144.40 L179.25 144.19 L180.65 143.99 L182.06 143.80 L183.47 143.62 L184.89 143.45 L186.30 143.28 L187.72 143.13 L189.15 142.98 L190.57 142.85 L192.00 142.72 L193.43 142.61 L194.87 142.50 L196.30 142.41 L197.74 142.32 L199.17 142.24 L200.61 142.17 L202.05 142.11 L203.49 142.07 L204.94 142.03 L206.38 142.00 L207.82 141.98 L209.27 141.97 L210.71 141.97 L212.15 141.98 L213.60 142.00 L215.04 142.03 L216.48 142.07 L217.92 142.11 L219.36 142.17 L220.80 142.24 L222.24 142.32 L223.68 142.41 L225.11 142.50 L226.54 142.61 L227.97 142.72 L229.40 142.85 L230.83 142.98 L232.25 143.13 L233.67 143.28 L235.09 143.45 L236.50 143.62 L237.92 143.80 L239.32 143.99 L240.73 144.19 L242.13 144.40 L243.53 144.62 L244.92 144.85 L246.31 145.09 L247.69 145.33 L249.07 145.59 L250.44 145.85 L251.81 146.12 L253.18 146.40 L254.54 146.69 L255.89 146.99 L257.24 147.30 L258.58 147.61 L259.92 147.94 L261.25 148.27 L262.57 148.61 L263.89 148.96 L265.20 149.31 L266.51 149.68 L267.81 150.05 L269.10 150.43 L270.38 150.81 L271.66 151.21 L272.93 151.61 L274.19 152.02 L275.44 152.44 L276.69 152.86 L277.93 153.29 L279.16 153.73 L280.38 154.17 L281.60 154.62 L282.81 155.08 L284.00 155.54 L285.19 156.02 L286.37 156.49 L287.55 156.97 L288.71 157.46 L289.86 157.96 L291.01 158.46 L292.14 158.96 L293.27 159.48 L294.38 159.99 L295.49 160.52 L296.59 161.04 L297.68 161.58 L298.75 162.11 L299.82 162.65 L300.88 163.20 L301.93 163.75 L302.96 164.31 L303.99 164.87 L305.01 165.43 L306.01 166.00 L307.01 166.57 L308.00 167.14 L308.97 167.72 L309.94 168.30 L310.89 168.89 L311.83 169.48 L312.76 170.07 L313.68 170.66 L314.59 171.26 L315.49 171.86 L316.38 172.46 L317.26 173.06 L318.12 173.67 L318.98 174.27 L319.82 174.88 L320.65 175.49 L321.47 176.10 L322.28 176.72 L323.08 177.33 L323.87 177.95 L324.64 178.56 L325.41 179.18 L326.16 179.79 L326.90 180.41 L327.63 181.03 L328.35 181.65 L329.06 182.26 L329.76 182.88 L330.44 183.50 L331.11 184.11 L331.78 184.73 L332.43 185.34 L333.07 185.96 L333.70 186.57 L334.31 187.18 L334.92 187.79 L335.51 188.40 L336.10 189.00 L336.67 189.61 L337.23 190.21 L337.78 190.81 L338.32 191.41 L338.85 192.00 L339.36 192.60 L339.87 193.18 L340.37 193.77 L340.85 194.35 L341.32 194.93 L341.79 195.51 L342.24 196.08 L342.68 196.65 L343.11 197.22 L343.54 197.78 L343.95 198.34 L344.35 198.89 L344.74 199.44 L345.12 199.98 L345.49 200.52 L345.85 201.06 L346.20 201.59 L346.54 202.11 L346.88 202.63 L347.20 203.15 L347.51 203.66 L347.81 204.16 L348.11 204.66 L348.39 205.15 L348.67 205.63 L348.94 206.11 L349.20 206.59 L349.45 207.06 L349.69 207.52 L349.92 207.97 L350.14 208.42 L350.36 208.86 L350.57 209.29 L350.77 209.72 L350.96 210.14 L351.15 210.55 L351.32 210.96 L351.49 211.36 L351.66 211.75 L351.81 212.13 L351.96 212.51 L352.10 212.87 L352.24 213.23 L352.37 213.59 L352.49 213.93 L352.61 214.27 L352.72 214.59 L352.82 214.91 L352.92 215.22 L353.01 215.53 L353.10 215.82 L353.18 216.10 L353.26 216.38 L353.33 216.65 L353.39 216.91 L353.46 217.16 L353.51 217.40 L353.57 217.63 L353.61 217.86 L353.66 218.07 L353.70 218.28 L353.74 218.47 L353.77 218.66 L353.80 218.84 L353.83 219.00 L353.85 219.16 L353.88 219.31 L353.89 219.45 L353.91 219.58 L353.92 219.70 L353.94 219.81 L353.95 219.91 L353.95 220.01 L353.96 220.09 L353.97 220.16 L353.97 220.23 L353.97 220.28 L353.97 220.32 L353.97 220.36 L353.98 220.38 L353.98 220.40 L353.98 220.40" stroke="#ff8000" stroke-width="3.2" stroke-dasharray="5.33 5.33"/>
</g>
<g fill="none" stroke="#707070" stroke-width="1">
<rect x="59.5" y="16.5" width="336.5" height="208.4"/>
<path d="M66.00 224.9 v-4 M66.00 16.5 v4 M59.5 220.40 h4 M396.0 220.40 h-4 M130.67 224.9 v-4 M130.67 16.5 v4 M59.5 182.14 h4 M396.0 182.14 h-4 M195.34 224.9 v-4 M195.34 16.5 v4 M59.5 143.88 h4 M396.0 143.88 h-4 M260.01 224.9 v-4 M260.01 16.5 v4 M59.5 105.62 h4 M396.0 105.62 h-4 M324.68 224.9 v-4 M324.68 16.5 v4 M59.5 67.36 h4 M396.0 67.36 h-4 M389.35 224.9 v-4 M389.35 16.5 v4 M59.5 29.10 h4 M396.0 29.10 h-4"/>
</g>
<g class="tk"><text x="66.00" y="240.4" text-anchor="middle">0</text><text x="130.67" y="240.4" text-anchor="middle">0.1</text><text x="195.34" y="240.4" text-anchor="middle">0.2</text><text x="260.01" y="240.4" text-anchor="middle">0.3</text><text x="324.68" y="240.4" text-anchor="middle">0.4</text><text x="389.35" y="240.4" text-anchor="middle">0.5</text><text x="55.5" y="225.25" text-anchor="end">0</text><text x="55.5" y="186.99" text-anchor="end">1000</text><text x="55.5" y="148.73" text-anchor="end">2000</text><text x="55.5" y="110.47" text-anchor="end">3000</text><text x="55.5" y="72.21" text-anchor="end">4000</text><text x="55.5" y="33.95" text-anchor="end">5000</text></g>
<g class="lg">
<text x="114.8" y="33.8" text-anchor="middle">EdS</text>
<text x="114.4" y="53.1" text-anchor="middle"><tspan class="se" font-size="11.9" dx="0.3">Λ</tspan>CDM</text>
<text x="78" y="71.2">w=<tspan dx="0.4" dy="0.5" font-size="14">−</tspan><tspan dx="0.5" dy="-0.5">1.3, </tspan><tspan class="it" dx="-0.3">c</tspan><tspan class="it" font-size="9.3" dy="2" dx="0.2">s</tspan><tspan dy="-2" dx="0.6">=1</tspan></text>
<text x="78" y="89.9">w=<tspan dx="0.4" dy="0.5" font-size="14">−</tspan><tspan dx="0.5" dy="-0.5">1.3, </tspan><tspan class="it" dx="-0.3">c</tspan><tspan class="it" font-size="9.3" dy="2" dx="0.2">s</tspan><tspan dy="-2" dx="0.6">=0</tspan></text>
<g fill="none" stroke-width="3" stroke-linecap="square">
<path d="M163.2 28.9 H208.4" stroke="#0000ff" stroke-dasharray="16.4 5.4"/>
<path d="M163.2 48.4 H208.4" stroke="#ff0000"/>
<path d="M163.2 67.25 H208.4" stroke="#00fa00" stroke-dasharray="1.1 5.65"/>
<path d="M163.2 86.45 H208.4" stroke="#ff8000" stroke-dasharray="5.3 5.3"/>
</g>
</g>
<text transform="translate(10.9 145.3) rotate(-90)" font-size="13">y = <tspan dx="1.7">R/</tspan><tspan class="it" dx="0.9">R</tspan><tspan class="it" font-size="9.5" dy="4" dx="0.4">i</tspan></text>
<text x="228" y="262.1" text-anchor="middle" class="se it" font-size="13.4">η</text>
</svg>
</body></html>
